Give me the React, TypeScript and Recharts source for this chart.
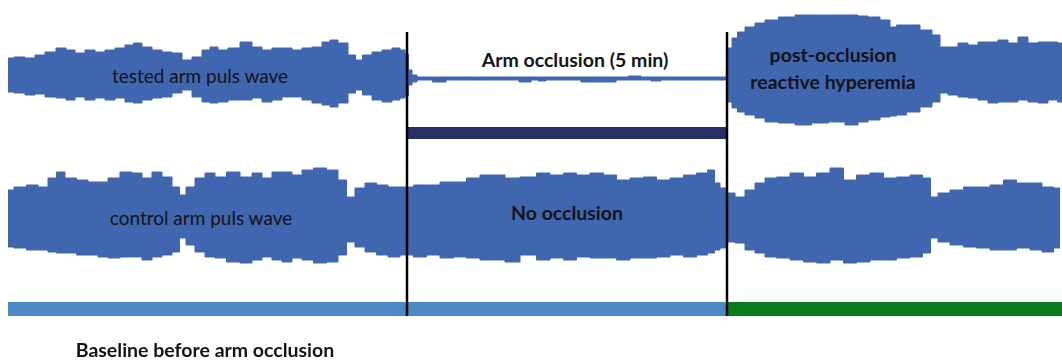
import { ComposedChart, Area, XAxis, YAxis, ReferenceArea, ReferenceLine } from 'recharts';

// sample index along the recording; occlusion runs from sample 399 to 719
const occlusionStart = 399;
const occlusionEnd = 719;

// tested arm pulse envelope (baseline, occlusion, post-occlusion)
const testedX = [
  0, 12, 22, 32, 42, 54, 62, 72, 82, 92, 102, 112, 122, 129, 139, 149, 159, 169, 179, 189, 199, 205, 215, 225, 239, 249, 259, 269, 279, 289, 299, 309, 319, 325, 335, 345, 350, 359, 369, 379, 389, 395,
  399, 402, 406, 412, 437, 439, 500, 522, 524, 537, 539, 607, 609, 632, 634, 652, 654, 718,
  721, 727, 732, 742, 752, 762, 779, 795, 812, 829, 845, 855, 865, 879, 885, 892, 905, 919, 929, 935, 945, 955, 965, 975, 985, 995, 1005, 1015, 1025, 1035, 1045, 1054,
];
const testedHi = [
  18, 19, 18, 21, 24, 28, 26, 23, 26, 24, 26, 28, 31, 33, 29, 26, 24, 23, 16, 19, 26, 29, 26, 28, 34, 29, 26, 28, 28, 26, 28, 29, 34, 36, 33, 21, 16, 21, 24, 26, 28, 26,
  22, 6, 1, -1, -1, -1, -1, -1, -1, -1, -1, -1, -1, 0, -1, -1, -1, -1,
  28, 38, 44, 49, 53, 56, 59, 61, 61, 61, 61, 60, 59, 56, 49, 51, 51, 46, 41, 29, 29, 33, 31, 34, 34, 36, 33, 39, 33, 34, 34, 33,
];
const testedLo = [
  -16, -17, -19, -18, -21, -22, -24, -21, -24, -22, -24, -22, -26, -27, -24, -22, -21, -17, -14, -21, -26, -27, -26, -24, -24, -22, -26, -24, -21, -21, -24, -27, -29, -31, -27, -17, -14, -19, -24, -26, -24, -22,
  -20, -9, -6, -4, -6, -4, -4, -6, -4, -5, -4, -6, -4, -4, -4, -5, -4, -4,
  -26, -32, -36, -39, -42, -46, -47, -49, -47, -46, -49, -46, -44, -41, -40, -39, -36, -31, -26, -17, -19, -21, -22, -24, -27, -26, -26, -24, -26, -27, -24, -26,
];

// control arm pulse envelope
const controlX = [
  0, 12, 25, 35, 45, 52, 62, 75, 85, 95, 105, 119, 129, 139, 149, 159, 169, 174, 182, 192, 202, 212, 225, 239, 249, 259, 269, 279, 289, 299, 312, 325, 335, 342, 352, 362, 375, 385, 399, 412, 425, 439, 452, 465, 479, 492, 502,
  522, 535, 549, 562, 575, 589, 602, 615, 629, 642, 655, 669, 682, 695, 704, 709, 715, 722, 732, 742, 752, 762, 775, 789, 802, 815, 829, 842, 855, 869, 882, 895, 909, 920, 925, 935, 949, 962, 975, 989, 1002, 1015, 1029, 1039, 1052,
];
const controlHi = [
  26, 29, 31, 29, 38, 44, 38, 36, 34, 34, 38, 44, 43, 38, 44, 39, 29, 21, 29, 38, 43, 39, 44, 39, 43, 38, 44, 44, 41, 46, 48, 46, 36, 19, 28, 33, 31, 29, 29, 31, 31, 34, 34, 38, 41, 41, 38,
  39, 43, 41, 43, 41, 43, 41, 36, 38, 39, 36, 38, 41, 43, 46, 33, 28, 23, 19, 26, 33, 38, 39, 43, 39, 43, 48, 36, 41, 43, 38, 39, 41, 38, 19, 23, 26, 29, 29, 31, 36, 33, 33, 29, 28,
];
const controlLo = [
  -31, -32, -34, -34, -36, -37, -37, -39, -39, -41, -42, -41, -41, -44, -41, -39, -36, -22, -29, -36, -41, -42, -46, -47, -44, -41, -44, -46, -42, -44, -47, -46, -39, -26, -31, -36, -39, -41, -39, -41, -39, -42, -41, -42, -44, -44, -46,
  -39, -44, -42, -44, -41, -42, -42, -44, -42, -42, -41, -39, -41, -39, -37, -34, -32, -26, -27, -34, -37, -41, -42, -44, -46, -47, -44, -47, -46, -44, -44, -42, -41, -37, -22, -26, -29, -31, -32, -34, -34, -32, -34, -36, -32,
];

// vertical placement of each trace on the shared axis
const testedLevel = 104;
const controlLevel = -36;

const testedData = testedX.map((x, i) => ({ x, band: [testedLevel + testedLo[i], testedLevel + testedHi[i]] }));
const controlData = controlX.map((x, i) => ({ x, band: [controlLevel + controlLo[i], controlLevel + controlHi[i]] }));

const WAVE = '#4066b0';
const txt: React.CSSProperties = {
  position: 'absolute',
  transform: 'translate(-50%, -50%)',
  fontFamily: 'Lato, "Open Sans", sans-serif',
  color: '#141418',
  whiteSpace: 'nowrap',
  lineHeight: 1,
};

export default function App() {
  return (
    <div style={{ position: 'fixed', left: 0, top: 0, width: 1062, height: 360, background: '#fff' }}>
      <ComposedChart width={1062} height={360} margin={{ top: 0, right: 0, left: 0, bottom: 0 }}>
        <XAxis type="number" dataKey="x" domain={[-8, 1054]} hide allowDataOverflow />
        <YAxis type="number" domain={[-180, 180]} hide allowDataOverflow />
        <ReferenceArea x1={occlusionStart} x2={occlusionEnd} y1={41} y2={53} fill="#272f66" fillOpacity={1} stroke="none" />
        <ReferenceArea x1={0} x2={occlusionEnd} y1={-136} y2={-122} fill="#4a89c6" fillOpacity={1} stroke="none" />
        <ReferenceArea x1={occlusionEnd} x2={1054} y1={-136} y2={-122} fill="#0a7b1e" fillOpacity={1} stroke="none" />
        <Area data={testedData} dataKey="band" type="step" fill={WAVE} fillOpacity={1} stroke={WAVE} strokeWidth={1} dot={false} activeDot={false} isAnimationActive={false} />
        <Area data={controlData} dataKey="band" type="step" fill={WAVE} fillOpacity={1} stroke={WAVE} strokeWidth={1} dot={false} activeDot={false} isAnimationActive={false} />
        <ReferenceLine segment={[{ x: occlusionStart, y: 148 }, { x: occlusionStart, y: -136 }]} stroke="#000" strokeWidth={2.5} />
        <ReferenceLine segment={[{ x: occlusionEnd, y: 148 }, { x: occlusionEnd, y: -136 }]} stroke="#000" strokeWidth={2.5} />
      </ComposedChart>
      <div style={{ ...txt, left: 200, top: 75, fontSize: 19 }}>tested arm puls wave</div>
      <div style={{ ...txt, left: 201, top: 217, fontSize: 19 }}>control arm puls wave</div>
      <div style={{ ...txt, left: 575, top: 60, fontSize: 19.5, fontWeight: 700 }}>Arm occlusion (5 min)</div>
      <div style={{ ...txt, left: 833, top: 55, fontSize: 19.5, fontWeight: 700 }}>post-occlusion</div>
      <div style={{ ...txt, left: 833, top: 82, fontSize: 19.5, fontWeight: 700 }}>reactive hyperemia</div>
      <div style={{ ...txt, left: 567, top: 213, fontSize: 19.5, fontWeight: 700 }}>No occlusion</div>
      <div style={{ ...txt, left: 205, top: 350, fontSize: 19.5, fontWeight: 700 }}>Baseline before arm occlusion</div>
    </div>
  );
}
